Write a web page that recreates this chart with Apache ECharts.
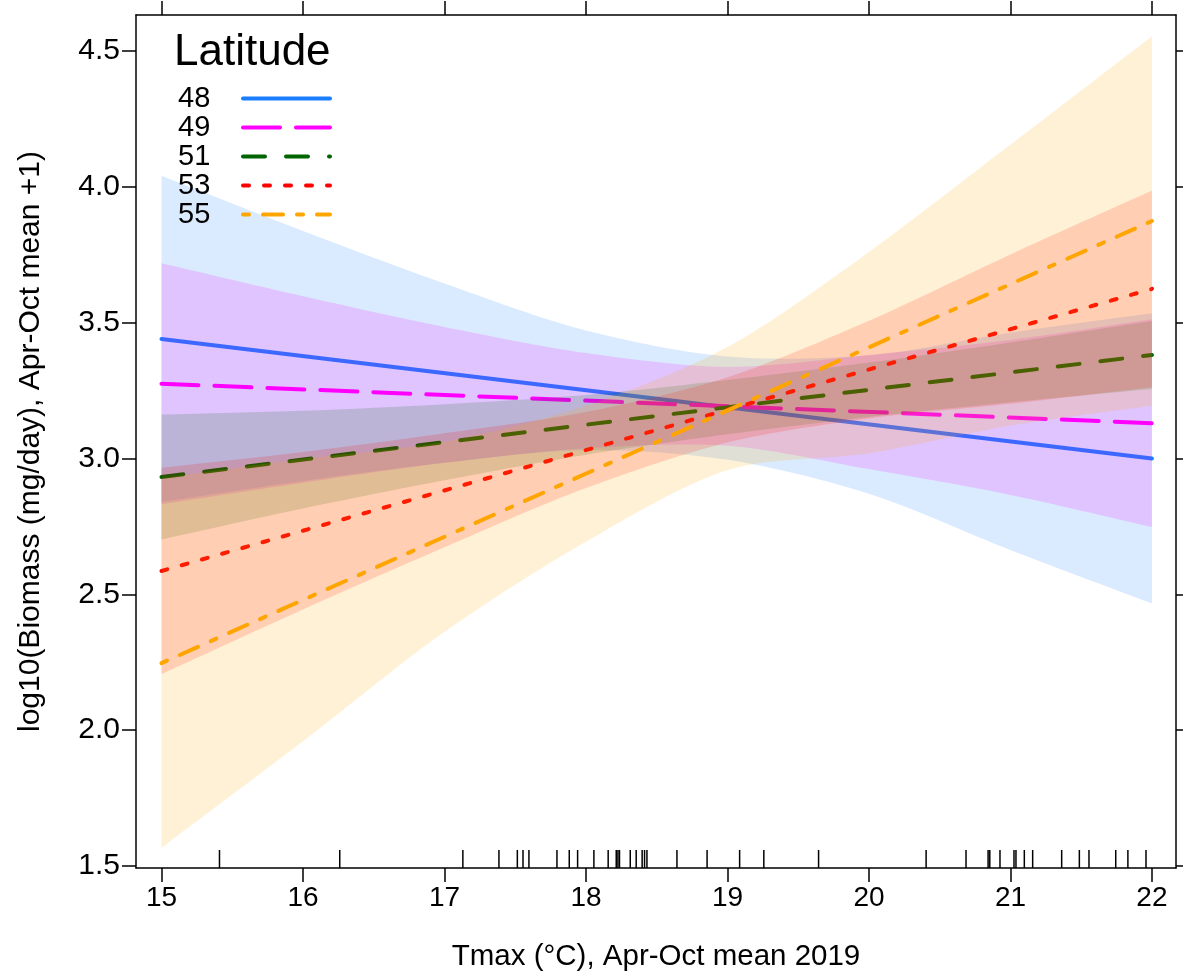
<!DOCTYPE html>
<html>
<head>
<meta charset="utf-8">
<script src="https://cdn.jsdelivr.net/npm/echarts@6/dist/echarts.min.js"></script>
<style>
  html, body { margin: 0; background: #fff; }
  #chart { width: 1183px; height: 979px; }
</style>
</head>
<body>
<div id="chart"></div>
<script>
// ---- data ----
const latitudes = ["48", "49", "51", "53", "55"];

// fitted lines (straight), ends at x = 15 and x = 22
const lineX = [15, 22];
const fit48 = [3.44, 3.0];
const fit49 = [3.275, 3.13];
const fit51 = [2.932, 3.381];
const fit53 = [2.586, 3.624];
const fit55 = [2.247, 3.874];

// confidence bands
const bandX = [15, 16, 17, 18, 19, 20, 21, 22];
const upper48 = [4.04, 3.837, 3.644, 3.471, 3.375, 3.38, 3.463, 3.534];
const lower48 = [2.84, 2.917, 2.984, 3.031, 2.995, 2.87, 2.663, 2.466];
const upper49 = [3.718, 3.597, 3.484, 3.388, 3.337, 3.381, 3.436, 3.512];
const lower49 = [2.832, 2.911, 2.984, 3.038, 3.047, 2.961, 2.866, 2.748];
const upper51 = [3.162, 3.176, 3.2, 3.234, 3.289, 3.353, 3.427, 3.506];
const lower51 = [2.702, 2.816, 2.92, 3.014, 3.089, 3.153, 3.207, 3.256];
const upper53 = [2.966, 3.024, 3.093, 3.171, 3.299, 3.507, 3.751, 3.986];
const lower53 = [2.206, 2.444, 2.673, 2.891, 3.059, 3.147, 3.201, 3.262];
const upper55 = [2.927, 2.999, 3.062, 3.194, 3.41, 3.76, 4.155, 4.554];
const lower55 = [1.567, 1.959, 2.362, 2.694, 2.957, 3.019, 3.121, 3.194];

// rug of observed Tmax values
const rugX = [15.41, 16.26, 17.13, 17.385, 17.515, 17.555, 17.597, 17.795, 17.882, 17.941,
  18.056, 18.157, 18.214, 18.226, 18.237, 18.313, 18.355, 18.397, 18.414, 18.431, 18.643,
  18.856, 19.086, 19.257, 19.644, 20.404, 20.686, 20.842, 20.854, 20.926, 21.025, 21.039,
  21.098, 21.157, 21.362, 21.487, 21.555, 21.744, 21.83, 21.958];

const xTicks = [15, 16, 17, 18, 19, 20, 21, 22];
const yTicks = [1.5, 2.0, 2.5, 3.0, 3.5, 4.0, 4.5];

// ---- styling ----
const FONT = "'Liberation Sans', Arial, sans-serif";
const X_MIN = 14.82, X_MAX = 22.17;
const Y_MIN = 1.493, Y_MAX = 4.632;

const colors = ["#1a7cff", "#ff00ff", "#006400", "#ff0000", "#ffa500"];
const dashes = ["solid", [37, 16], [22, 21], [6, 15], [6, 14, 20, 14]];
const fits = [fit48, fit49, fit51, fit53, fit55];
const uppers = [upper48, upper49, upper51, upper53, upper55];
const lowers = [lower48, lower49, lower51, lower53, lower55];

const chart = echarts.init(document.getElementById("chart"));

// draw order per group: line, then its band on top (as in the original plot)
const lineSeries = latitudes.map((lat, k) => ({
  name: lat,
  type: "line",
  data: lineX.map((x, i) => [x, fits[k][i]]),
  symbol: "none",
  z: 2 + 2 * k,
  lineStyle: { color: colors[k], width: 4, type: dashes[k], cap: "round" },
  itemStyle: { color: colors[k] },
}));

// each band is one smoothed polygon: upper edge left->right, lower edge back;
// corner points are doubled so the ends stay square
const bandSeries = latitudes.map((lat, k) => ({
  name: lat + " band",
  type: "custom",
  z: 3 + 2 * k,
  silent: true,
  data: bandX.map((x, i) => [x, lowers[k][i], uppers[k][i]]),
  encode: { x: 0, y: [1, 2] },
  renderItem: (params, api) => {
    if (params.dataIndexInside !== 0) return null;
    const n = bandX.length;
    const top = [], bot = [];
    for (let i = 0; i < n; i++) {
      top.push(api.coord([api.value(0, i), api.value(2, i)]));
      bot.push(api.coord([api.value(0, i), api.value(1, i)]));
    }
    bot.reverse();
    const pts = [top[0], ...top, top[n - 1], bot[0], ...bot, bot[n - 1]];
    return {
      type: "polygon",
      shape: { points: pts, smooth: 0.3 },
      style: { fill: colors[k], opacity: 0.16 },
    };
  },
}));

const rugSeries = {
  name: "rug",
  type: "custom",
  data: rugX.map((x) => [x, Y_MIN]),
  z: 20,
  silent: true,
  renderItem: (params, api) => {
    const p = api.coord([api.value(0), api.value(1)]);
    return {
      type: "line",
      shape: { x1: p[0], y1: p[1], x2: p[0], y2: p[1] - 18 },
      style: { stroke: "#000", lineWidth: 1.5 },
    };
  },
};

const axisBase = {
  type: "value",
  axisLine: { show: true, onZero: false, lineStyle: { color: "#000", width: 1.5 } },
  splitLine: { show: false },
};

chart.setOption({
  animation: false,
  backgroundColor: "#fff",
  title: {
    text: "Latitude",
    left: 174,
    top: 31,
    padding: 0,
    textStyle: { fontFamily: FONT, fontSize: 44, fontWeight: "normal", color: "#000" },
  },
  legend: {
    data: latitudes,
    orient: "vertical",
    left: 178,
    top: 84,
    padding: 0,
    itemGap: 0,
    align: "right",
    itemWidth: 87,
    itemHeight: 14,
    selectedMode: false,
    itemStyle: { opacity: 0 },
    lineStyle: { width: 4, cap: "round" },
    formatter: "{a|{name}}",
    textStyle: {
      fontFamily: FONT,
      fontSize: 29,
      color: "#000",
      rich: { a: { fontFamily: FONT, fontSize: 29, width: 60, align: "left", lineHeight: 29 } },
    },
  },
  grid: { left: 136, right: 7, top: 15, bottom: 111 },
  xAxis: [
    {
      ...axisBase,
      position: "bottom",
      min: X_MIN,
      max: X_MAX,
      axisTick: { show: true, length: 14, customValues: xTicks, lineStyle: { color: "#000", width: 1.5 } },
      axisLabel: { customValues: xTicks, fontFamily: FONT, fontSize: 28, color: "#000", margin: 16 },
      name: "Tmax (°C), Apr-Oct mean 2019",
      nameLocation: "middle",
      nameGap: 74,
      nameTextStyle: { fontFamily: FONT, fontSize: 29.5, color: "#000" },
    },
    {
      ...axisBase,
      position: "top",
      min: X_MIN,
      max: X_MAX,
      axisTick: { show: true, length: 14, customValues: xTicks, lineStyle: { color: "#000", width: 1.5 } },
      axisLabel: { show: false },
    },
  ],
  yAxis: [
    {
      ...axisBase,
      position: "left",
      min: Y_MIN,
      max: Y_MAX,
      axisTick: { show: true, length: 14, customValues: yTicks, lineStyle: { color: "#000", width: 1.5 } },
      axisLabel: {
        customValues: yTicks,
        formatter: (v) => v.toFixed(1),
        fontFamily: FONT,
        fontSize: 30,
        color: "#000",
        margin: 16,
      },
      name: "log10(Biomass (mg/day), Apr-Oct mean +1)",
      nameLocation: "middle",
      nameGap: 90,
      nameTextStyle: { fontFamily: FONT, fontSize: 30, color: "#000" },
    },
    {
      ...axisBase,
      position: "right",
      min: Y_MIN,
      max: Y_MAX,
      axisTick: { show: true, length: 14, customValues: yTicks, lineStyle: { color: "#000", width: 1.5 } },
      axisLabel: { show: false },
    },
  ],
  series: [...lineSeries, ...bandSeries, rugSeries],
});
</script>
</body>
</html>
